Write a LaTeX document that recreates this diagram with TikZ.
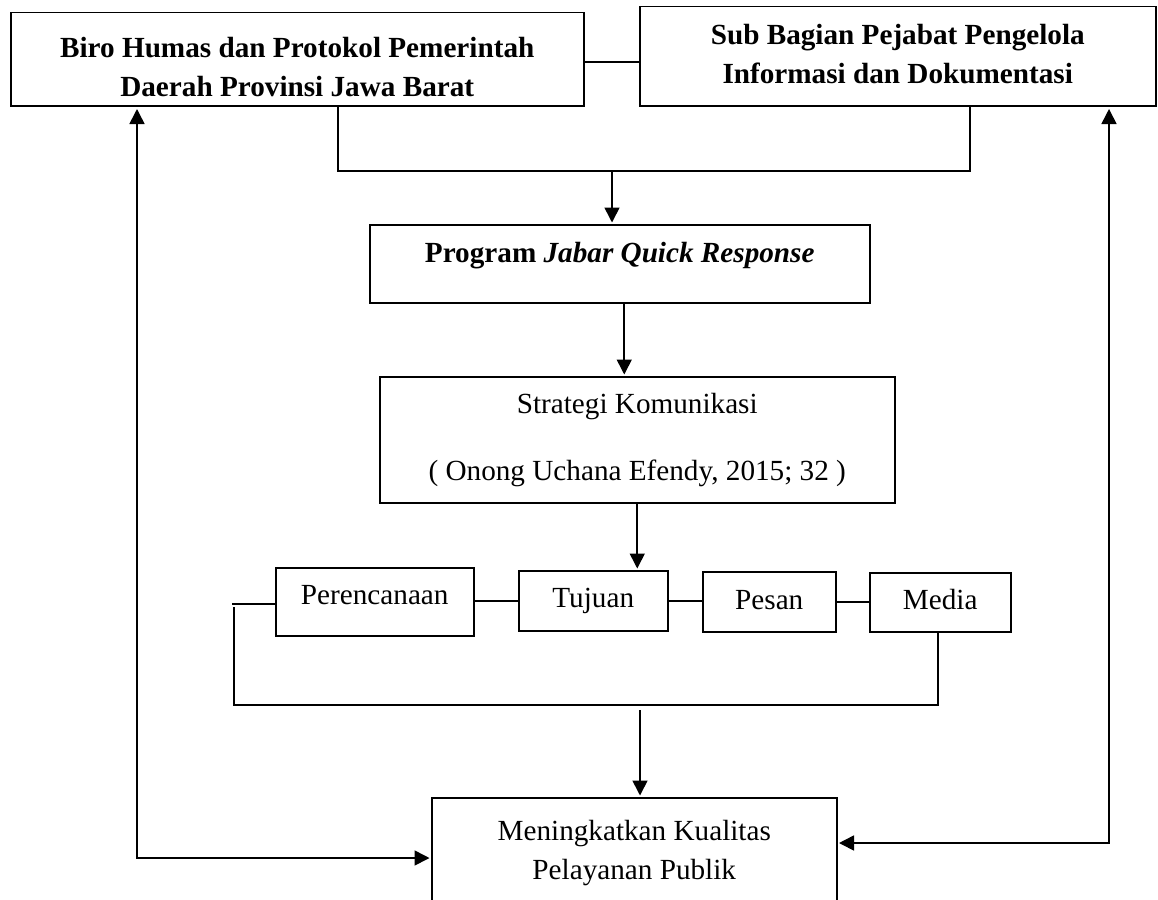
\documentclass[tikz,border=0pt]{standalone}
\usepackage{fontspec}
\setmainfont{Liberation Serif}
\usetikzlibrary{arrows.meta,calc}
\newcommand\boxtext[2]{\raisebox{#1}[\height][\depth]{\begin{tabular}{@{}c@{}}#2\end{tabular}}}
\tikzset{
  box/.style={draw, line width=1.5pt, inner sep=0pt, anchor=north west,
    font=\fontsize{29.2}{38.5}\selectfont},
  conn/.style={line width=1.6pt},
  arr/.style={line width=1.6pt, -{Triangle[length=15pt,width=15pt]}, shorten >=1.5pt},
  darr/.style={line width=1.6pt, {Triangle[length=15pt,width=15pt]}-{Triangle[length=15pt,width=15pt]}, shorten >=1.5pt, shorten <=2.5pt}
}
\begin{document}
\begin{tikzpicture}[x=1pt,y=-1pt]
\useasboundingbox (0,0) rectangle (1158,899);
\clip (0,0) rectangle (1158,899);
\fill[white] (0,0) rectangle (1158,899);

\node[box, minimum width=573pt, minimum height=93pt] (biro) at (10,12)
  {\boxtext{-10pt}{\textbf{Biro Humas dan Protokol Pemerintah}\\\textbf{Daerah Provinsi Jawa Barat}}};
\node[box, minimum width=516pt, minimum height=99pt] (sub) at (639,6)
  {\boxtext{0pt}{\textbf{Sub Bagian Pejabat Pengelola}\\\textbf{Informasi dan Dokumentasi}}};
\node[box, minimum width=500pt, minimum height=78pt] (prog) at (369,224)
  {\boxtext{9pt}{\textbf{Program \textit{Jabar Quick Response}}}};
\node[box, minimum width=515pt, minimum height=126pt] (strat) at (379,376)
  {\boxtext{0pt}{Strategi Komunikasi\\[28.5pt]( Onong Uchana Efendy, 2015; 32 )}};
\node[box, minimum width=198pt, minimum height=68pt] (per) at (275,567)
  {\boxtext{5pt}{Perencanaan}};
\node[box, minimum width=149pt, minimum height=60pt] (tuj) at (518,570)
  {\boxtext{1pt}{Tujuan}};
\node[box, minimum width=133pt, minimum height=60pt] (pes) at (702,571)
  {\boxtext{0pt}{Pesan}};
\node[box, minimum width=141pt, minimum height=59pt] (med) at (869,572)
  {\boxtext{0pt}{Media}};
\node[box, minimum width=405pt, minimum height=133pt] (pub) at (431,797)
  {\boxtext{12pt}{Meningkatkan Kualitas\\Pelayanan Publik}};

% top connectors
\draw[conn] ([yshift=-2.5pt]biro.east) -- ([yshift=-2.5pt]biro.east -| sub.west);
\coordinate (bA) at (338,171);
\coordinate (bB) at (970,171);
\coordinate (bM) at (612,171);
\draw[conn] (biro.south -| bA) -- (bA) -- (bB) -- (sub.south -| bB);
\draw[arr] (bM) -- (bM |- prog.north);

\draw[arr] ([xshift=4.5pt]prog.south) -- ([xshift=4.5pt]prog.south |- strat.north);
\draw[arr] (strat.south) -- (strat.south |- tuj.north);

% row connectors
\draw[conn] (tuj.west -| per.east) -- (tuj.west);
\draw[conn] (tuj.east) -- (tuj.east -| pes.west);
\draw[conn] (med.west -| pes.east) -- (med.west);
\coordinate (stub) at (232,604);
\draw[conn] (stub) -- (stub -| per.west);
\coordinate (lA) at (234,607);
\coordinate (lB) at (234,705);
\coordinate (lC) at (938,705);
\draw[conn] (lA) -- (lB) -- (lC) -- (lC |- med.south);
\coordinate (dM) at (640,710);
\draw[arr] (dM) -- (dM |- pub.north);

% side loops
\coordinate (L) at (137,858);
\draw[darr] (biro.south -| L) -- (L) -- (L -| pub.west);
\coordinate (R) at (1109,843);
\draw[darr] (sub.south -| R) -- (R) -- (R -| pub.east);
\end{tikzpicture}
\end{document}
